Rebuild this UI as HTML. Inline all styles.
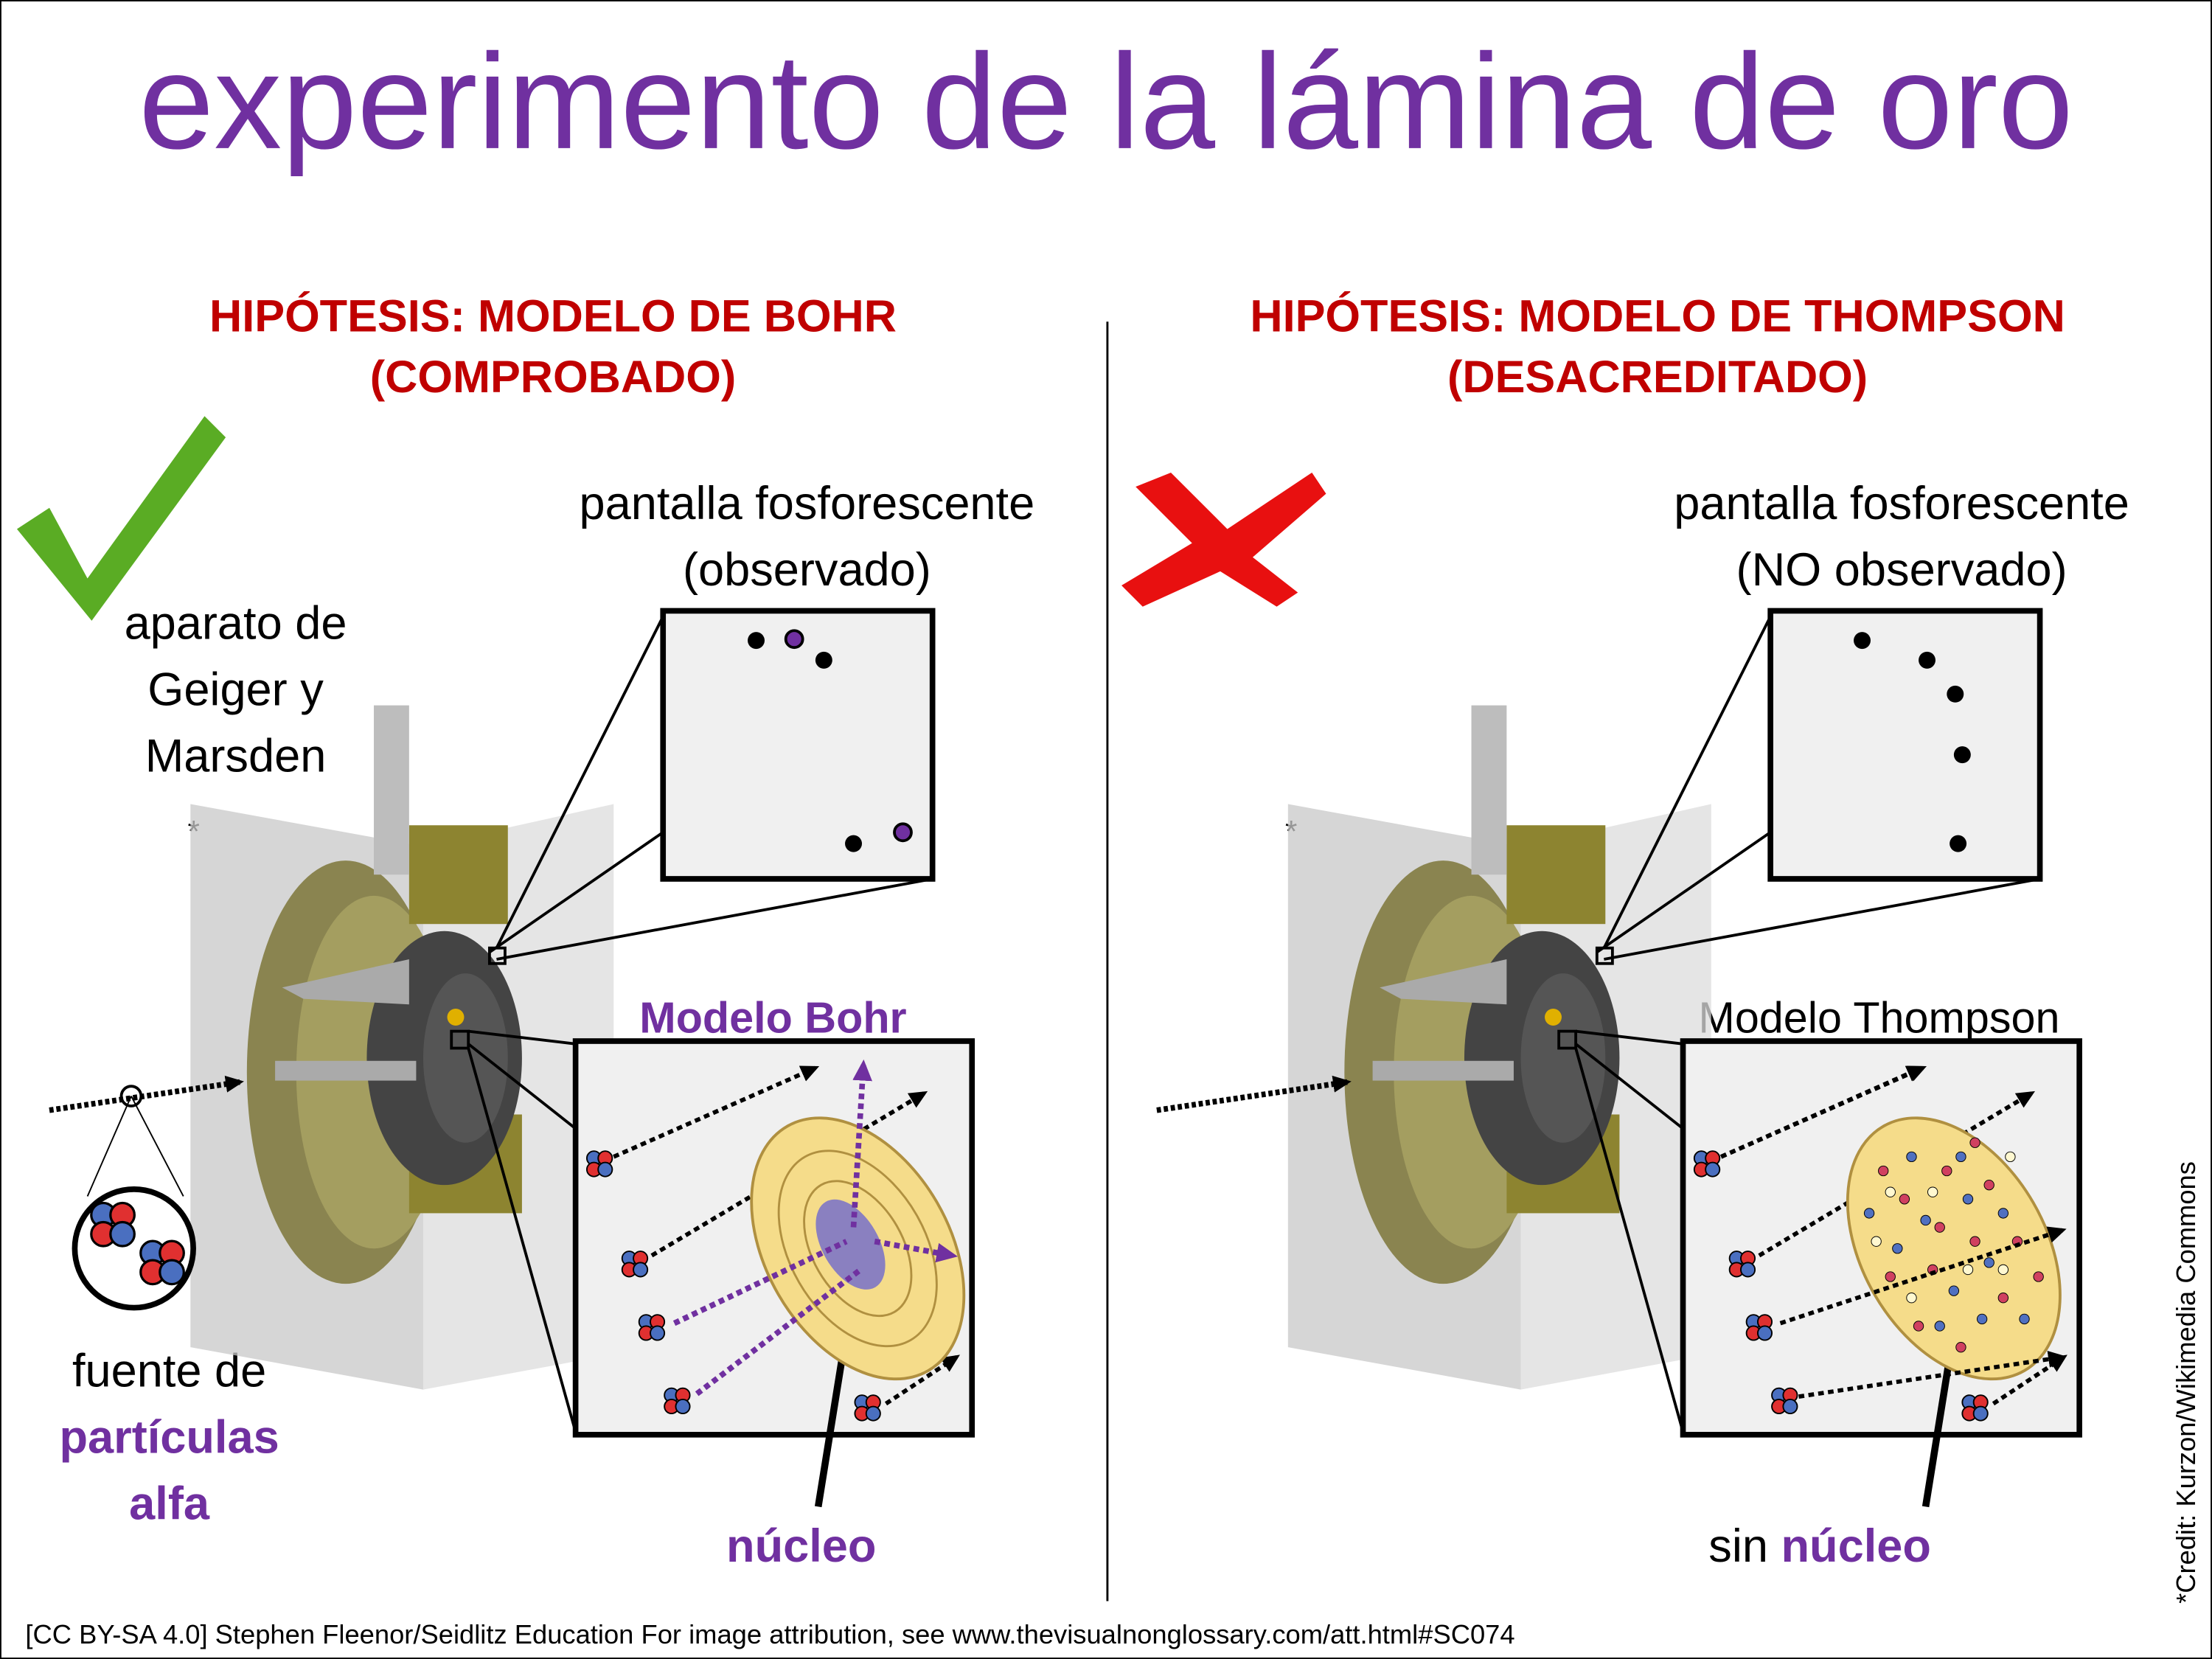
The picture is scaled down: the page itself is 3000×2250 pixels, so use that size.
<!DOCTYPE html>
<html><head><meta charset="utf-8"><style>
html,body{margin:0;padding:0;background:#fff}
svg{display:block}
text{font-family:"Liberation Sans",sans-serif}
</style></head><body>
<svg width="3000" height="2250" viewBox="0 0 1568 1176" xmlns="http://www.w3.org/2000/svg">
<defs>
<marker id="ah" markerUnits="userSpaceOnUse" markerWidth="14" markerHeight="14" refX="10" refY="7" orient="auto"><path d="M0,1 L13,7 L0,13 z" fill="#000"/></marker>
<marker id="ap" markerUnits="userSpaceOnUse" markerWidth="16" markerHeight="16" refX="11" refY="8" orient="auto"><path d="M0,1 L15,8 L0,15 z" fill="#7030a0"/></marker>
<g id="alpha">
<circle cx="-4" cy="-4" r="5" fill="#4a6fc0" stroke="#000" stroke-width="1"/>
<circle cx="4" cy="-4" r="5" fill="#e03030" stroke="#000" stroke-width="1"/>
<circle cx="-4" cy="4" r="5" fill="#e03030" stroke="#000" stroke-width="1"/>
<circle cx="4" cy="4" r="5" fill="#4a6fc0" stroke="#000" stroke-width="1"/>
</g>
<g id="app">
<polygon points="135,570 300,600 300,985 135,955" fill="#c8c8c8" opacity="0.75"/>
<polygon points="300,600 435,570 435,960 300,985" fill="#dcdcdc" opacity="0.75"/>
<ellipse cx="245" cy="760" rx="70" ry="150" fill="#8a8450"/>
<ellipse cx="265" cy="760" rx="55" ry="125" fill="#a49e60"/>
<rect x="290" y="585" width="70" height="70" fill="#8d8430"/>
<rect x="290" y="790" width="80" height="70" fill="#8d8430"/>
<ellipse cx="315" cy="750" rx="55" ry="90" fill="#444"/>
<ellipse cx="330" cy="750" rx="30" ry="60" fill="#555"/>
<rect x="265" y="500" width="25" height="120" fill="#bdbdbd"/>
<polygon points="200,700 290,680 290,712 215,708" fill="#aaa"/>
<rect x="195" y="752" width="100" height="14" fill="#aaa"/>
<circle cx="323" cy="721" r="6" fill="#e0b000"/>
</g>
<g id="screen">
<rect x="470" y="433" width="191" height="190" fill="#f0f0f0" stroke="#000" stroke-width="4"/>
<line x1="352" y1="672" x2="470" y2="437" stroke="#000" stroke-width="2"/>
<line x1="352" y1="680" x2="661" y2="623" stroke="#000" stroke-width="2"/>
<line x1="347" y1="675" x2="470" y2="590" stroke="#000" stroke-width="2"/>
<rect x="347" y="672" width="11" height="11" fill="none" stroke="#000" stroke-width="2"/>
</g>
<g id="box">
<rect x="408" y="738" width="281" height="279" fill="#f0f0f0" stroke="#000" stroke-width="4"/>
<rect x="320" y="731" width="12" height="12" fill="none" stroke="#000" stroke-width="2"/>
<line x1="332" y1="731" x2="408" y2="740" stroke="#000" stroke-width="2"/>
<line x1="332" y1="743" x2="408" y2="1015" stroke="#000" stroke-width="2"/>
<line x1="332" y1="740" x2="408" y2="800" stroke="#000" stroke-width="2"/>
<line x1="35" y1="787" x2="170" y2="767" stroke="#000" stroke-width="4" stroke-dasharray="3,2" marker-end="url(#ah)"/>
<use href="#alpha" x="425" y="825"/><use href="#alpha" x="450" y="896"/>
<use href="#alpha" x="462" y="941"/><use href="#alpha" x="480" y="993"/>
<use href="#alpha" x="615" y="998"/>
<line x1="435" y1="820" x2="578" y2="757" stroke="#000" stroke-width="3" stroke-dasharray="4,3" marker-end="url(#ah)"/>
<line x1="462" y1="890" x2="655" y2="775" stroke="#000" stroke-width="3" stroke-dasharray="4,3" marker-end="url(#ah)"/>
<line x1="628" y1="995" x2="678" y2="962" stroke="#000" stroke-width="3" stroke-dasharray="4,3" marker-end="url(#ah)"/>
<line x1="580" y1="1068" x2="603" y2="925" stroke="#000" stroke-width="5" marker-end="url(#ah)"/>
</g>
</defs>
<rect x="0.5" y="0.5" width="1567" height="1175" fill="#fff" stroke="#000" stroke-width="1"/>
<text x="784" y="105" font-size="96" fill="#7030a0" text-anchor="middle">experimento de la lámina de oro</text>
<line x1="785" y1="228" x2="785" y2="1135" stroke="#000" stroke-width="1.5"/>
<g font-weight="bold" fill="#c00000" font-size="32" text-anchor="middle">
<text x="392" y="235">HIPÓTESIS: MODELO DE BOHR</text>
<text x="392" y="278">(COMPROBADO)</text>
<text x="1175" y="235">HIPÓTESIS: MODELO DE THOMPSON</text>
<text x="1175" y="278">(DESACREDITADO)</text>
</g>
<path d="M12,375 L35,360 L62,410 L145,295 L160,310 L65,440 Z" fill="#5aac24"/>
<path d="M805,345 L830,335 L870,375 L930,335 L940,350 L888,395 L920,420 L905,430 L865,405 L810,430 L795,415 L845,385 Z" fill="#e81010"/>
<g font-size="33" fill="#000" text-anchor="middle">
<text x="572" y="368">pantalla fosforescente</text>
<text x="572" y="415">(observado)</text>
<text x="1348" y="368">pantalla fosforescente</text>
<text x="1348" y="415">(NO observado)</text>
<text x="167" y="453">aparato de</text>
<text x="167" y="500">Geiger y</text>
<text x="167" y="547">Marsden</text>
<text x="120" y="983">fuente de</text>
<text x="1332" y="732" font-size="31">Modelo Thompson</text>
<text x="1290" y="1107">sin <tspan fill="#7030a0" font-weight="bold">núcleo</tspan></text>
</g>
<text x="133" y="597" font-size="22">*</text><text x="911" y="597" font-size="22">*</text>
<g font-weight="bold" fill="#7030a0" text-anchor="middle" font-size="33">
<text x="120" y="1030">partículas</text>
<text x="120" y="1077">alfa</text>
<text x="568" y="1107">núcleo</text>
<text x="548" y="732" font-size="31">Modelo Bohr</text>
</g>
<use href="#app"/><use href="#app" x="778"/>
<use href="#screen"/><use href="#screen" x="785"/>
<use href="#box"/><use href="#box" x="785"/>
<circle cx="95" cy="885" r="42" fill="#fff" stroke="#000" stroke-width="4"/>
<line x1="93" y1="777" x2="62" y2="848" stroke="#000"/><line x1="93" y1="777" x2="130" y2="848" stroke="#000"/>
<circle cx="93" cy="777" r="7" fill="none" stroke="#000" stroke-width="2"/>
<g transform="translate(80,868) scale(1.7)"><use href="#alpha"/></g>
<g transform="translate(115,895) scale(1.7)"><use href="#alpha"/></g>
<circle cx="536" cy="454" r="6"/><circle cx="563" cy="453" r="6" fill="#7030a0" stroke="#000" stroke-width="2"/>
<circle cx="584" cy="468" r="6"/><circle cx="605" cy="598" r="6"/>
<circle cx="640" cy="590" r="6" fill="#7030a0" stroke="#000" stroke-width="2"/>
<circle cx="1320" cy="454" r="6"/><circle cx="1366" cy="468" r="6"/><circle cx="1386" cy="492" r="6"/>
<circle cx="1391" cy="535" r="6"/><circle cx="1388" cy="598" r="6"/>
<g transform="rotate(-30 608 885)">
<ellipse cx="608" cy="885" rx="65" ry="100" fill="#f5dc8a" stroke="#b09040" stroke-width="2"/>
<ellipse cx="608" cy="885" rx="48" ry="75" fill="none" stroke="#b09040" stroke-width="1.5"/>
<ellipse cx="608" cy="885" rx="32" ry="52" fill="none" stroke="#b09040" stroke-width="1.5"/>
<ellipse cx="605" cy="880" rx="20" ry="35" fill="#8a80c0"/>
</g>
<line x1="478" y1="938" x2="600" y2="880" stroke="#7030a0" stroke-width="4" stroke-dasharray="4,3"/>
<line x1="494" y1="988" x2="610" y2="900" stroke="#7030a0" stroke-width="4" stroke-dasharray="4,3"/>
<line x1="605" y1="870" x2="612" y2="755" stroke="#7030a0" stroke-width="4" stroke-dasharray="4,3" marker-end="url(#ap)"/>
<line x1="620" y1="880" x2="675" y2="890" stroke="#7030a0" stroke-width="4" stroke-dasharray="4,3" marker-end="url(#ap)"/>
<g transform="rotate(-30 1385 885)">
<ellipse cx="1385" cy="885" rx="65" ry="100" fill="#f5dc8a" stroke="#b09040" stroke-width="2"/>
</g>
<g fill="#d04060" stroke="#000" stroke-width="0.5">
<circle cx="1350" cy="850" r="3.5"/><circle cx="1380" cy="830" r="3.5"/><circle cx="1400" cy="880" r="3.5"/><circle cx="1370" cy="900" r="3.5"/><circle cx="1420" cy="920" r="3.5"/><circle cx="1360" cy="940" r="3.5"/>
<circle cx="1335" cy="830" r="3.5"/><circle cx="1410" cy="840" r="3.5"/><circle cx="1430" cy="880" r="3.5"/><circle cx="1390" cy="955" r="3.5"/><circle cx="1340" cy="905" r="3.5"/><circle cx="1400" cy="810" r="3.5"/><circle cx="1445" cy="905" r="3.5"/><circle cx="1375" cy="870" r="3.5"/>
</g>
<g fill="#5070c0" stroke="#000" stroke-width="0.5">
<circle cx="1365" cy="865" r="3.5"/><circle cx="1395" cy="850" r="3.5"/><circle cx="1385" cy="915" r="3.5"/><circle cx="1410" cy="895" r="3.5"/><circle cx="1345" cy="885" r="3.5"/>
<circle cx="1325" cy="860" r="3.5"/><circle cx="1420" cy="860" r="3.5"/><circle cx="1355" cy="820" r="3.5"/><circle cx="1405" cy="935" r="3.5"/><circle cx="1375" cy="940" r="3.5"/><circle cx="1435" cy="935" r="3.5"/><circle cx="1390" cy="820" r="3.5"/>
</g>
<g fill="#fff8d0" stroke="#000" stroke-width="0.5">
<circle cx="1340" cy="845" r="3.5"/><circle cx="1370" cy="845" r="3.5"/><circle cx="1420" cy="900" r="3.5"/><circle cx="1355" cy="920" r="3.5"/><circle cx="1395" cy="900" r="3.5"/><circle cx="1425" cy="820" r="3.5"/><circle cx="1330" cy="880" r="3.5"/>
</g>
<line x1="1220" y1="820" x2="1362" y2="757" stroke="#000" stroke-width="3" stroke-dasharray="4,3" marker-end="url(#ah)"/>
<line x1="1262" y1="938" x2="1462" y2="872" stroke="#000" stroke-width="3" stroke-dasharray="4,3" marker-end="url(#ah)"/>
<line x1="1275" y1="990" x2="1462" y2="962" stroke="#000" stroke-width="3" stroke-dasharray="4,3" marker-end="url(#ah)"/>
<text x="18" y="1165" font-size="19">[CC BY-SA 4.0] Stephen Fleenor/Seidlitz Education For image attribution, see www.thevisualnonglossary.com/att.html#SC074</text>
<text transform="translate(1556,980) rotate(-90)" font-size="19" text-anchor="middle">*Credit: Kurzon/Wikimedia Commons</text>
</svg>
</body></html>
